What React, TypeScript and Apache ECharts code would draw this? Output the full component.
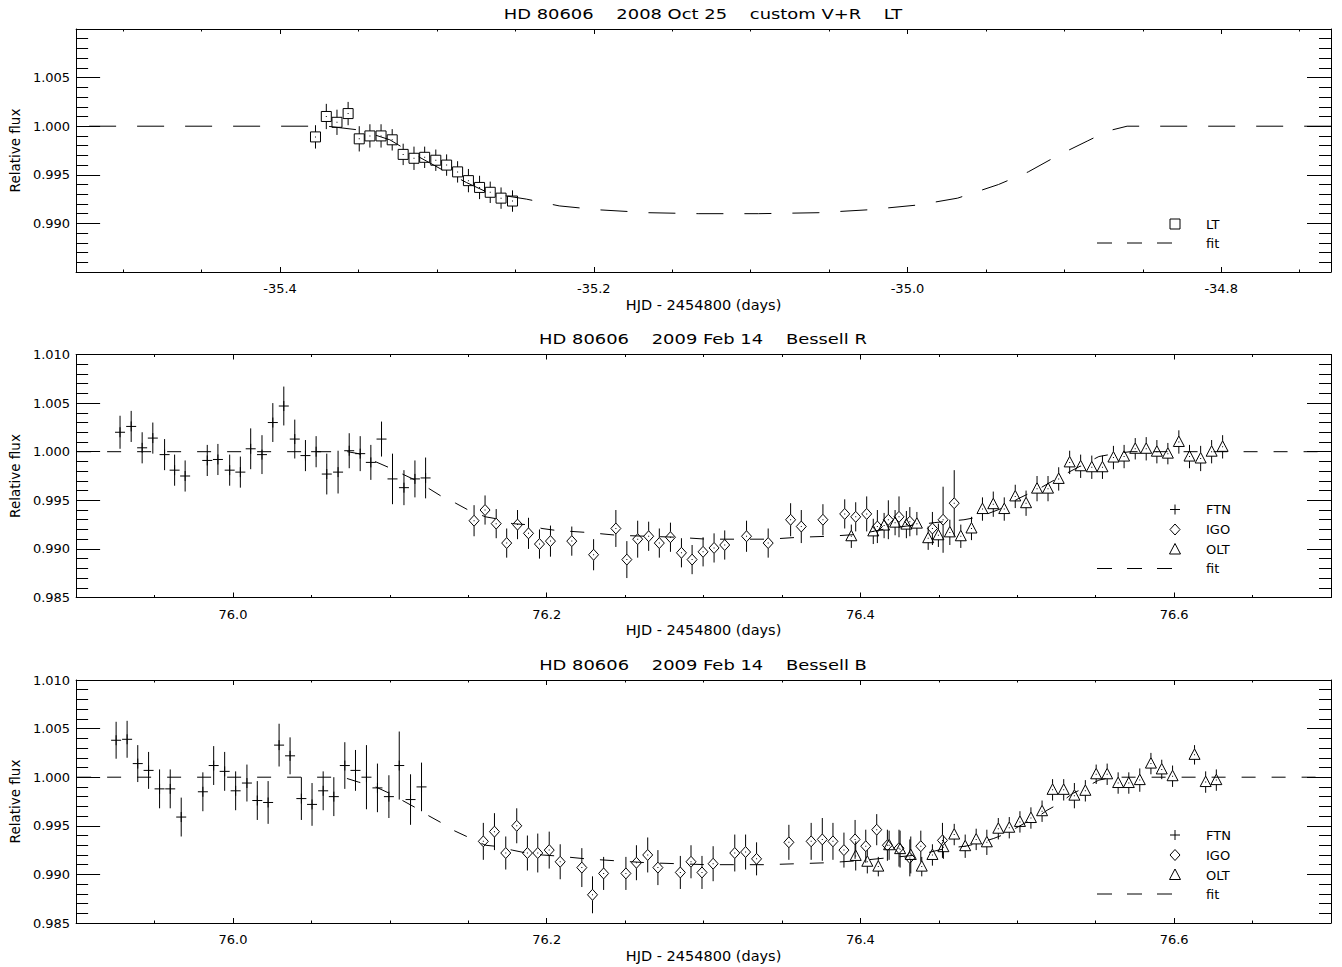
import React, { useEffect, useRef } from "react";
import * as echarts from "echarts";

const FONT = "DejaVu Sans";
const BLACK = "#000000";

const titles = [
  "HD 80606    2008 Oct 25    custom V+R    LT",
  "HD 80606    2009 Feb 14    Bessell R",
  "HD 80606    2009 Feb 14    Bessell B",
];
const xName = "HJD - 2454800 (days)";
const yName = "Relative flux";

// axis ranges and ticks
const yMin = 0.985;
const yMax = 1.01;
const yStep = 0.005;
const xRange1 = [-35.53, -34.73];
const xRange23 = [75.9, 76.7];
const xMajor1 = [-35.4, -35.2, -35.0, -34.8];
const xMinor1 = [-35.5, -35.45, -35.35, -35.3, -35.25, -35.15, -35.1, -35.05, -34.95, -34.9, -34.85, -34.75];
const xMajor23 = [76.0, 76.2, 76.4, 76.6];
const xMinor23 = [75.95, 76.05, 76.1, 76.15, 76.25, 76.3, 76.35, 76.45, 76.5, 76.55, 76.65];

// ---------- Panel 1: 2008 Oct 25, LT ----------
const ltX = [-35.3774, -35.3705, -35.3637, -35.3566, -35.3495, -35.3427, -35.3356, -35.3285, -35.3215, -35.3146, -35.3078, -35.3007, -35.2938, -35.2868, -35.2799, -35.2728, -35.266, -35.2591, -35.2518];
const ltY = [0.9989, 1.001, 1.0004, 1.0013, 0.9987, 0.999, 0.999, 0.9986, 0.9971, 0.9967, 0.9968, 0.9965, 0.996, 0.9953, 0.9944, 0.9937, 0.9932, 0.9926, 0.9923];
const ltErr = [0.0012, 0.0013, 0.0013, 0.0012, 0.0013, 0.0012, 0.0012, 0.0011, 0.0011, 0.0012, 0.0011, 0.0011, 0.0011, 0.0011, 0.0012, 0.0012, 0.0011, 0.0011, 0.0011];
const fit1X = [-35.53, -35.37, -35.349, -35.33, -35.3155, -35.2964, -35.2811, -35.2665, -35.243, -35.222, -35.197, -35.165, -35.133, -35.095, -35.057, -35.025, -34.993, -34.968, -34.942, -34.923, -34.904, -34.885, -34.8725, -34.86, -34.73];
const fit1Y = [1.0, 1.0, 0.9996, 0.9986, 0.9972, 0.9955, 0.9942, 0.9931, 0.9925, 0.9918, 0.9914, 0.9911, 0.991, 0.991, 0.9911, 0.9914, 0.9919, 0.9926, 0.994, 0.9953, 0.997, 0.9985, 0.9995, 1.0, 1.0];

// ---------- Panel 2: 2009 Feb 14, Bessell R ----------
const rFtnX = [75.928, 75.9351, 75.9421, 75.9489, 75.9564, 75.9628, 75.9695, 75.9836, 75.9904, 75.9979, 76.0047, 76.0113, 76.0185, 76.0254, 76.0324, 76.0394, 76.0462, 76.053, 76.0598, 76.067, 76.0741, 76.0811, 76.0879, 76.0947, 76.1017, 76.109, 76.116, 76.1228];
const rFtnY = [1.002, 1.0026, 1.0004, 1.0014, 0.9997, 0.9981, 0.9975, 0.9991, 0.9992, 0.9981, 0.9979, 1.0003, 0.9997, 1.003, 1.0047, 1.0013, 0.9996, 1.0, 0.9977, 0.9979, 1.0001, 0.9998, 0.9989, 1.0013, 0.9972, 0.9963, 0.9972, 0.9973];
const rFtnErr = [0.0017, 0.0016, 0.0016, 0.0016, 0.0016, 0.0016, 0.0016, 0.0016, 0.0016, 0.0016, 0.0016, 0.0021, 0.002, 0.002, 0.002, 0.002, 0.0016, 0.0016, 0.0021, 0.0022, 0.0018, 0.0018, 0.0018, 0.0018, 0.0026, 0.0018, 0.0019, 0.0021];
const rIgoX = [76.1537, 76.1607, 76.1678, 76.1745, 76.1814, 76.1884, 76.1954, 76.2024, 76.216, 76.2299, 76.2441, 76.2511, 76.258, 76.265, 76.2718, 76.2789, 76.2859, 76.2927, 76.2997, 76.3067, 76.3135, 76.3274, 76.3412, 76.3555, 76.3623, 76.3761, 76.39, 76.397, 76.404, 76.4108, 76.4178, 76.4246, 76.4315, 76.4459, 76.4527, 76.4598];
const rIgoY = [0.9929, 0.994, 0.9926, 0.9906, 0.9925, 0.9916, 0.9905, 0.9908, 0.9908, 0.9894, 0.9921, 0.9889, 0.991, 0.9913, 0.9906, 0.9912, 0.9896, 0.9889, 0.9897, 0.9901, 0.9904, 0.9913, 0.9906, 0.993, 0.9923, 0.993, 0.9936, 0.9933, 0.9936, 0.9923, 0.993, 0.9933, 0.9928, 0.9921, 0.993, 0.9947];
const rIgoErr = [0.0016, 0.0015, 0.0015, 0.0015, 0.0015, 0.0016, 0.0015, 0.0016, 0.0015, 0.0016, 0.0019, 0.0019, 0.0019, 0.0015, 0.0015, 0.0015, 0.0015, 0.0015, 0.0015, 0.0015, 0.0015, 0.0016, 0.0015, 0.0017, 0.0017, 0.0016, 0.0015, 0.0015, 0.0018, 0.0017, 0.002, 0.0021, 0.0015, 0.0017, 0.0034, 0.0034];
const rOltX = [76.3942, 76.4082, 76.4151, 76.4221, 76.4293, 76.436, 76.4432, 76.4497, 76.457, 76.464, 76.4708, 76.4778, 76.4847, 76.4917, 76.4987, 76.5056, 76.5126, 76.5196, 76.5264, 76.5334, 76.5404, 76.5475, 76.5543, 76.5613, 76.5681, 76.5752, 76.5822, 76.589, 76.596, 76.603, 76.6098, 76.6169, 76.6239, 76.6309];
const rOltY = [0.9913, 0.9918, 0.9924, 0.9927, 0.9925, 0.9926, 0.9911, 0.9914, 0.9917, 0.9913, 0.9921, 0.9941, 0.9946, 0.9941, 0.9954, 0.9947, 0.9962, 0.9962, 0.9972, 0.9989, 0.9985, 0.9984, 0.9984, 0.9994, 0.9995, 1.0003, 1.0003, 1.0, 0.9998, 1.001, 0.9995, 0.9993, 1.0, 1.0005];
const rOltErr = [0.0012, 0.0013, 0.0013, 0.0013, 0.0014, 0.0012, 0.0012, 0.0012, 0.0013, 0.0012, 0.0012, 0.0012, 0.0013, 0.0012, 0.0012, 0.0013, 0.0013, 0.0013, 0.0012, 0.0012, 0.0012, 0.0012, 0.0012, 0.0012, 0.0012, 0.0011, 0.0012, 0.0012, 0.0011, 0.0012, 0.0012, 0.0013, 0.0012, 0.0012];
const fit2X = [75.9, 76.073, 76.08, 76.089, 76.099, 76.108, 76.116, 76.125, 76.133, 76.142, 76.15, 76.161, 76.168, 76.178, 76.187, 76.197, 76.206, 76.225, 76.245, 76.264, 76.283, 76.302, 76.322, 76.342, 76.361, 76.38, 76.399, 76.417, 76.447, 76.466, 76.476, 76.489, 76.501, 76.514, 76.527, 76.54, 76.552, 76.562, 76.572, 76.7];
const fit2Y = [1.0, 1.0, 0.9998, 0.9991, 0.9984, 0.9977, 0.9971, 0.9962, 0.9954, 0.9947, 0.994, 0.9933, 0.9931, 0.9926, 0.9925, 0.9921, 0.9919, 0.9917, 0.9914, 0.9913, 0.9912, 0.991, 0.991, 0.991, 0.9912, 0.9913, 0.9915, 0.9921, 0.9927, 0.993, 0.9933, 0.9941, 0.9952, 0.9962, 0.9974, 0.9985, 0.9995, 0.9998, 1.0, 1.0];

// ---------- Panel 3: 2009 Feb 14, Bessell B ----------
const bFtnX = [75.9255, 75.9325, 75.9393, 75.9462, 75.9532, 75.96, 75.967, 75.9808, 75.9877, 75.9947, 76.0017, 76.0089, 76.0155, 76.0224, 76.0294, 76.0364, 76.0436, 76.0504, 76.0575, 76.0643, 76.0713, 76.0781, 76.0851, 76.0921, 76.0994, 76.106, 76.1132, 76.1202];
const bFtnY = [1.0038, 1.0039, 1.0014, 1.0007, 0.9988, 0.9988, 0.9959, 0.9985, 1.0012, 1.0006, 0.9986, 0.9994, 0.9976, 0.9974, 1.0033, 1.0022, 0.9978, 0.9972, 0.9986, 0.998, 1.0012, 1.0007, 1.0, 0.9989, 0.998, 1.0012, 0.9977, 0.999];
const bFtnErr = [0.0019, 0.0019, 0.0019, 0.0019, 0.002, 0.002, 0.002, 0.002, 0.002, 0.002, 0.002, 0.0019, 0.002, 0.0022, 0.0022, 0.0019, 0.0022, 0.0022, 0.002, 0.002, 0.0024, 0.0021, 0.0033, 0.0025, 0.0022, 0.0035, 0.0026, 0.0025];
const bIgoX = [76.1596, 76.1667, 76.1739, 76.1809, 76.1877, 76.1943, 76.2016, 76.2086, 76.2224, 76.2292, 76.2363, 76.2505, 76.2572, 76.2644, 76.2709, 76.2852, 76.292, 76.299, 76.3061, 76.3199, 76.3268, 76.3338, 76.3544, 76.3686, 76.3757, 76.3825, 76.3895, 76.3966, 76.4034, 76.4104, 76.4172, 76.4246, 76.4315, 76.4385, 76.4523];
const bIgoY = [0.9934, 0.9944, 0.9922, 0.995, 0.9922, 0.9922, 0.9925, 0.9913, 0.9907, 0.9879, 0.9901, 0.9901, 0.9912, 0.992, 0.9907, 0.9902, 0.9913, 0.9902, 0.9911, 0.9922, 0.9923, 0.9916, 0.9933, 0.9934, 0.9936, 0.9934, 0.9925, 0.9936, 0.9929, 0.9946, 0.993, 0.9927, 0.9917, 0.9929, 0.9935];
const bIgoErr = [0.0019, 0.0019, 0.0017, 0.0018, 0.0018, 0.002, 0.0019, 0.0018, 0.002, 0.0019, 0.0017, 0.0017, 0.0018, 0.0018, 0.0018, 0.0017, 0.0017, 0.0017, 0.0018, 0.0019, 0.0018, 0.0017, 0.0018, 0.0019, 0.0022, 0.0019, 0.0018, 0.002, 0.0017, 0.0016, 0.0016, 0.0019, 0.0019, 0.0016, 0.0018];
const bOltX = [76.397, 76.4044, 76.4114, 76.4183, 76.4253, 76.4321, 76.4391, 76.4459, 76.4529, 76.4598, 76.4668, 76.4738, 76.4806, 76.4879, 76.4949, 76.5017, 76.5087, 76.5158, 76.5225, 76.5296, 76.5364, 76.5434, 76.5503, 76.5573, 76.5643, 76.5711, 76.5781, 76.5852, 76.5921, 76.599, 76.613, 76.6201, 76.6269];
const bOltY = [0.9919, 0.9913, 0.9908, 0.993, 0.9926, 0.992, 0.9908, 0.992, 0.9928, 0.9941, 0.9929, 0.9936, 0.9933, 0.9947, 0.9948, 0.9954, 0.9958, 0.9965, 0.9987, 0.9987, 0.9981, 0.9986, 1.0003, 1.0003, 0.9994, 0.9994, 0.9997, 1.0014, 1.0008, 1.0001, 1.0023, 0.9995, 0.9997];
const bOltErr = [0.0015, 0.0012, 0.001, 0.0015, 0.0019, 0.0019, 0.001, 0.0011, 0.0012, 0.0011, 0.0012, 0.0011, 0.0013, 0.0011, 0.0011, 0.0011, 0.0011, 0.0011, 0.0011, 0.0011, 0.0013, 0.0011, 0.001, 0.0011, 0.0011, 0.0011, 0.0012, 0.0011, 0.001, 0.0011, 0.001, 0.0011, 0.0011];
const fit3X = [75.9, 76.07, 76.08, 76.091, 76.099, 76.107, 76.116, 76.124, 76.133, 76.141, 76.149, 76.161, 76.167, 76.178, 76.187, 76.197, 76.206, 76.225, 76.244, 76.264, 76.283, 76.302, 76.321, 76.34, 76.36, 76.379, 76.398, 76.417, 76.437, 76.455, 76.467, 76.475, 76.485, 76.493, 76.505, 76.512, 76.519, 76.527, 76.535, 76.544, 76.552, 76.561, 76.7];
const fit3Y = [1.0, 1.0, 0.9995, 0.999, 0.9984, 0.9977, 0.9969, 0.9961, 0.9953, 0.9945, 0.9939, 0.993, 0.9929, 0.9925, 0.9922, 0.992, 0.9919, 0.9916, 0.9914, 0.9912, 0.9911, 0.991, 0.991, 0.991, 0.9911, 0.9912, 0.9914, 0.9917, 0.992, 0.9927, 0.9929, 0.9932, 0.9937, 0.9942, 0.9953, 0.9958, 0.9966, 0.9973, 0.9983, 0.999, 0.9997, 1.0, 1.0];

type Kind = "square" | "plus" | "diamond" | "triangle";
interface DataSet { name: string; kind: Kind; x: number[]; y: number[]; e: number[]; }
interface Panel {
  top: number; range: number[]; majors: number[]; minors: number[]; showEnds: boolean;
  fitX: number[]; fitY: number[]; dash: number[]; dashOffset: number; sets: DataSet[]; title: string;
}

const PLOT_LEFT = 75;
const PLOT_W = 1256;
const PLOT_H = 243;

const panels: Panel[] = [
  {
    top: 29, range: xRange1, majors: xMajor1, minors: xMinor1, showEnds: false,
    fitX: fit1X, fitY: fit1Y, dash: [27, 21], dashOffset: 35, title: titles[0],
    sets: [{ name: "LT", kind: "square", x: ltX, y: ltY, e: ltErr }],
  },
  {
    top: 354.5, range: xRange23, majors: xMajor23, minors: xMinor23, showEnds: true,
    fitX: fit2X, fitY: fit2Y, dash: [14, 16], dashOffset: 29, title: titles[1],
    sets: [
      { name: "FTN", kind: "plus", x: rFtnX, y: rFtnY, e: rFtnErr },
      { name: "IGO", kind: "diamond", x: rIgoX, y: rIgoY, e: rIgoErr },
      { name: "OLT", kind: "triangle", x: rOltX, y: rOltY, e: rOltErr },
    ],
  },
  {
    top: 680, range: xRange23, majors: xMajor23, minors: xMinor23, showEnds: true,
    fitX: fit3X, fitY: fit3Y, dash: [14, 16], dashOffset: 29, title: titles[2],
    sets: [
      { name: "FTN", kind: "plus", x: bFtnX, y: bFtnY, e: bFtnErr },
      { name: "IGO", kind: "diamond", x: bIgoX, y: bIgoY, e: bIgoErr },
      { name: "OLT", kind: "triangle", x: bOltX, y: bOltY, e: bOltErr },
    ],
  },
];

const lineStyle = { stroke: BLACK, lineWidth: 1, fill: "none" };

function symbolShapes(kind: Kind, cx: number, cy: number): any[] {
  if (kind === "square") {
    return [{ type: "rect", shape: { x: cx - 5, y: cy - 5, width: 10, height: 10 }, style: { ...lineStyle } }];
  }
  if (kind === "diamond") {
    return [{ type: "polygon", shape: { points: [[cx, cy - 5.5], [cx + 5, cy], [cx, cy + 5.5], [cx - 5, cy]] }, style: { ...lineStyle } }];
  }
  if (kind === "triangle") {
    return [{ type: "polygon", shape: { points: [[cx, cy - 6], [cx + 5.5, cy + 4.5], [cx - 5.5, cy + 4.5]] }, style: { ...lineStyle } }];
  }
  return [
    { type: "line", shape: { x1: cx - 5, y1: cy, x2: cx + 5, y2: cy }, style: { ...lineStyle } },
    { type: "line", shape: { x1: cx, y1: cy - 5, x2: cx, y2: cy + 5 }, style: { ...lineStyle } },
  ];
}

function makeRender(kind: Kind) {
  const ext: Record<Kind, number[]> = { square: [5, 5], diamond: [5.5, 5.5], triangle: [6, 4.5], plus: [0, 0] };
  return (_params: any, api: any) => {
    const x = api.value(0);
    const y = api.value(1);
    const e = api.value(2);
    const c = api.coord([x, y]);
    const t = api.coord([x, y + e]);
    const b = api.coord([x, y - e]);
    const cx = c[0];
    const cy = c[1];
    const [up, dn] = ext[kind];
    const children: any[] = [];
    if (kind === "plus") {
      children.push({ type: "line", shape: { x1: cx, y1: t[1], x2: cx, y2: b[1] }, style: { ...lineStyle } });
    } else {
      if (cy - up > t[1]) children.push({ type: "line", shape: { x1: cx, y1: t[1], x2: cx, y2: cy - up }, style: { ...lineStyle } });
      if (cy + dn < b[1]) children.push({ type: "line", shape: { x1: cx, y1: cy + dn, x2: cx, y2: b[1] }, style: { ...lineStyle } });
      children.push({ type: "rect", shape: { x: cx - 0.5, y: cy - 0.5, width: 1, height: 1 }, style: { fill: BLACK } });
    }
    children.push(...symbolShapes(kind, cx, cy));
    return { type: "group", children };
  };
}

const textStyleBase = { color: BLACK, fontFamily: FONT };

function buildOption() {
  const grid: any[] = [];
  const xAxis: any[] = [];
  const yAxis: any[] = [];
  const series: any[] = [];
  const graphic: any[] = [];

  panels.forEach((p, g) => {
    grid.push({ left: PLOT_LEFT, top: p.top, width: PLOT_W, height: PLOT_H, containLabel: false });
    const xCommon = {
      type: "value", gridIndex: g, min: p.range[0], max: p.range[1],
      splitLine: { show: false },
      axisLine: { show: true, onZero: false, lineStyle: { color: BLACK, width: 1 } },
    };
    const tickLine = { color: BLACK, width: 1 };
    xAxis.push({
      ...xCommon, position: "bottom",
      axisTick: { show: true, inside: true, length: 5, customValues: p.majors, lineStyle: tickLine },
      axisLabel: { show: true, customValues: p.majors, formatter: (v: number) => v.toFixed(1), fontSize: 13, margin: 10, ...textStyleBase },
      name: xName, nameLocation: "middle", nameGap: 25,
      nameTextStyle: { fontSize: 14.5, ...textStyleBase },
    });
    xAxis.push({
      ...xCommon, position: "bottom", axisLine: { show: false, onZero: false },
      axisTick: { show: true, inside: true, length: 2.5, customValues: p.minors, lineStyle: tickLine },
      axisLabel: { show: false },
    });
    xAxis.push({
      ...xCommon, position: "top",
      axisTick: { show: true, inside: true, length: 5, customValues: p.majors, lineStyle: tickLine },
      axisLabel: { show: false },
    });
    xAxis.push({
      ...xCommon, position: "top", axisLine: { show: false, onZero: false },
      axisTick: { show: true, inside: true, length: 2.5, customValues: p.minors, lineStyle: tickLine },
      axisLabel: { show: false },
    });

    const yCommon = {
      type: "value", gridIndex: g, min: yMin, max: yMax, interval: yStep,
      splitLine: { show: false },
      axisLine: { show: true, onZero: false, lineStyle: { color: BLACK, width: 1 } },
      axisTick: { show: true, inside: true, length: 24, lineStyle: tickLine },
      minorTick: { show: true, splitNumber: 5, length: 12, lineStyle: tickLine },
    };
    yAxis.push({
      ...yCommon, position: "left",
      axisLabel: {
        show: true, formatter: (v: number) => v.toFixed(3), fontSize: 13, margin: 6,
        showMinLabel: p.showEnds, showMaxLabel: p.showEnds, ...textStyleBase,
      },
      name: yName, nameLocation: "middle", nameGap: 53,
      nameTextStyle: { fontSize: 13.5, ...textStyleBase },
    });
    yAxis.push({ ...yCommon, position: "right", axisLabel: { show: false } });

    const xi = g * 4;
    const yi = g * 2;
    series.push({
      type: "line", name: "fit", xAxisIndex: xi, yAxisIndex: yi,
      data: p.fitX.map((x, i) => [x, p.fitY[i]]),
      showSymbol: false, symbol: "none", smooth: false, silent: true,
      lineStyle: { color: BLACK, width: 1, type: p.dash, dashOffset: p.dashOffset },
      z: 2,
    });
    p.sets.forEach((s) => {
      series.push({
        type: "custom", name: s.name, xAxisIndex: xi, yAxisIndex: yi,
        dimensions: ["x", "y", "err"], encode: { x: 0, y: 1 },
        data: s.x.map((x, i) => [x, s.y[i], s.e[i]]),
        renderItem: makeRender(s.kind), clip: true, silent: true, z: 3,
      });
    });

    // title (IDL vector font is wide: stretch horizontally)
    graphic.push({
      type: "text", x: PLOT_LEFT + PLOT_W / 2, y: p.top - 15, scaleX: 1.28,
      style: { text: p.title, fill: BLACK, fontSize: 14, fontFamily: FONT, align: "center", verticalAlign: "middle", textAlign: "center", textVerticalAlign: "middle" },
    });

    // legend
    const n = p.sets.length;
    const symX = 1175;
    const txtX = 1206;
    p.sets.forEach((s, i) => {
      const cy = p.top + 195 - 20 * (n - 1 - i);
      symbolShapes(s.kind, symX, cy).forEach((sh) => graphic.push({ ...sh, silent: true }));
      graphic.push({
        type: "text", x: txtX, y: cy,
        style: { text: s.name, fill: BLACK, fontSize: 13, fontFamily: FONT, align: "left", verticalAlign: "middle", textAlign: "left", textVerticalAlign: "middle" },
      });
    });
    const fy = p.top + 214;
    graphic.push({ type: "line", shape: { x1: 1097, y1: fy, x2: 1172, y2: fy }, style: { stroke: BLACK, lineWidth: 1, lineDash: [15, 15] } });
    graphic.push({
      type: "text", x: txtX, y: fy,
      style: { text: "fit", fill: BLACK, fontSize: 13, fontFamily: FONT, align: "left", verticalAlign: "middle", textAlign: "left", textVerticalAlign: "middle" },
    });
  });

  return {
    animation: false,
    backgroundColor: "#ffffff",
    textStyle: { fontFamily: FONT },
    grid, xAxis, yAxis, series, graphic,
  };
}

export default function App() {
  const ref = useRef<HTMLDivElement>(null);
  useEffect(() => {
    if (!ref.current) return;
    const chart = echarts.init(ref.current, null, { renderer: "svg" });
    chart.setOption(buildOption() as any);
    return () => chart.dispose();
  }, []);
  return (
    <div
      ref={ref}
      style={{ position: "fixed", left: 0, top: 0, width: 1342, height: 967, background: "#ffffff" }}
    />
  );
}
